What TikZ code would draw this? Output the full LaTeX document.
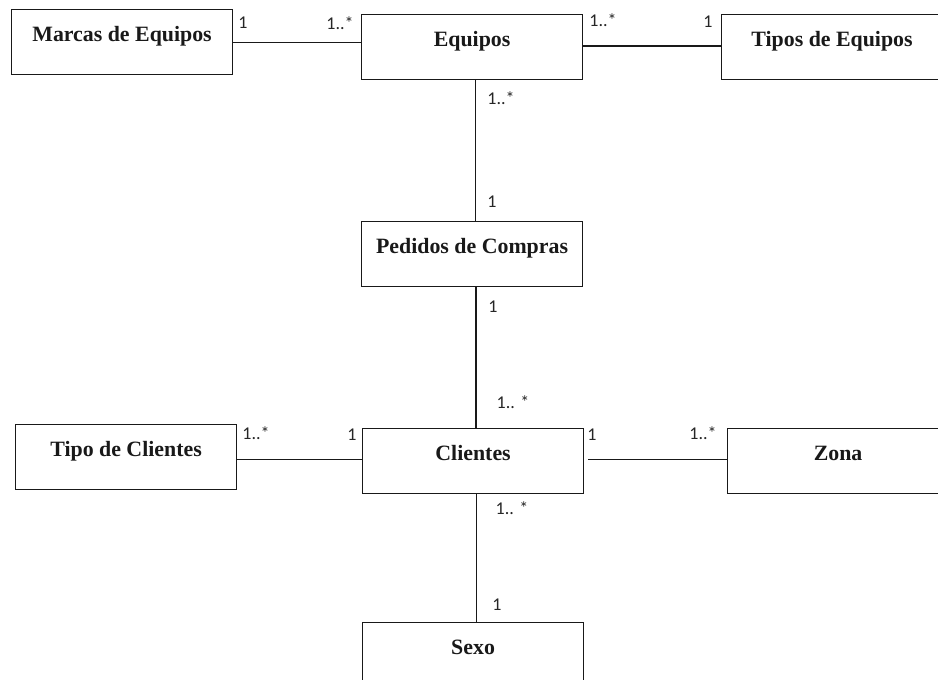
\documentclass[tikz,border=0pt]{standalone}
\usepackage{fontspec}
\setmainfont{Liberation Serif}
\newfontfamily\multfont{Carlito}
\begin{document}
\begin{tikzpicture}[x=0.75pt,y=-0.75pt,
  entity/.style={draw=black!90, line width=1.1pt, fill=white, rectangle,
    inner sep=0pt, minimum width=165.5pt, anchor=north west,
    font=\bfseries\fontsize{16.4}{18}\selectfont, text=black!90,
    text height=24pt, text depth=24.75pt},
  mult/.style={font=\multfont\fontsize{13.5}{15}\selectfont, inner sep=0pt, text=black!85},
  link/.style={line width=1.1pt, draw=black!90}]
\clip (0,0) rectangle (938,679);

% entities
\node[entity] (marcas)   at (11,9)    {Marcas de Equipos};
\node[entity] (equipos)  at (361,14)  {Equipos};
\node[entity] (tipos)    at (721,14)  {Tipos de Equipos};
\node[entity] (pedidos)  at (361,221) {Pedidos de Compras};
\node[entity] (tipocli)  at (15,424)  {Tipo de Clientes};
\node[entity] (clientes) at (362,428) {Clientes};
\node[entity] (zona)     at (727,428) {Zona};
\node[entity] (sexo)     at (362,622) {Sexo};

% associations
\draw[link] (marcas.east) -- (marcas.east -| equipos.west);
\draw[link] ([yshift=1pt]equipos.east) -- ([yshift=1pt]tipos.west);
\draw[link] ([xshift=2.6pt]equipos.south) -- ([xshift=2.6pt]equipos.south |- pedidos.north);
\draw[link] ([xshift=3pt]pedidos.south) -- ([xshift=3pt]pedidos.south |- clientes.north);
\draw[link] ([yshift=1.2pt]tipocli.east |- clientes.west) -- ([yshift=1.2pt]clientes.west);
\draw[link] ([xshift=3pt,yshift=1.2pt]clientes.east) -- ([yshift=1.2pt]zona.west);
\draw[link] ([xshift=2.6pt]clientes.south) -- ([xshift=2.6pt]clientes.south |- sexo.north);

% multiplicities
\node[mult] (m1)  at (243,23)  {1};
\node[mult] (m2)  at (340,23)  {1..*};
\node[mult] (m3)  at (603,20)  {1..*};
\node[mult] (m4)  at (708,22)  {1};
\node[mult] (m5)  at (501,98)  {1..*};
\node[mult] (m6)  at (492,202) {1};
\node[mult] (m7)  at (493,307) {1};
\node[mult] (m8)  at (513,402) {1.. *};
\node[mult] (m9)  at (256,433) {1..*};
\node[mult] (m10) at (352,435) {1};
\node[mult] (m11) at (592,435) {1};
\node[mult] (m12) at (703,433) {1..*};
\node[mult] (m13) at (512,508) {1.. *};
\node[mult] (m14) at (497,605) {1};
\end{tikzpicture}
\end{document}
